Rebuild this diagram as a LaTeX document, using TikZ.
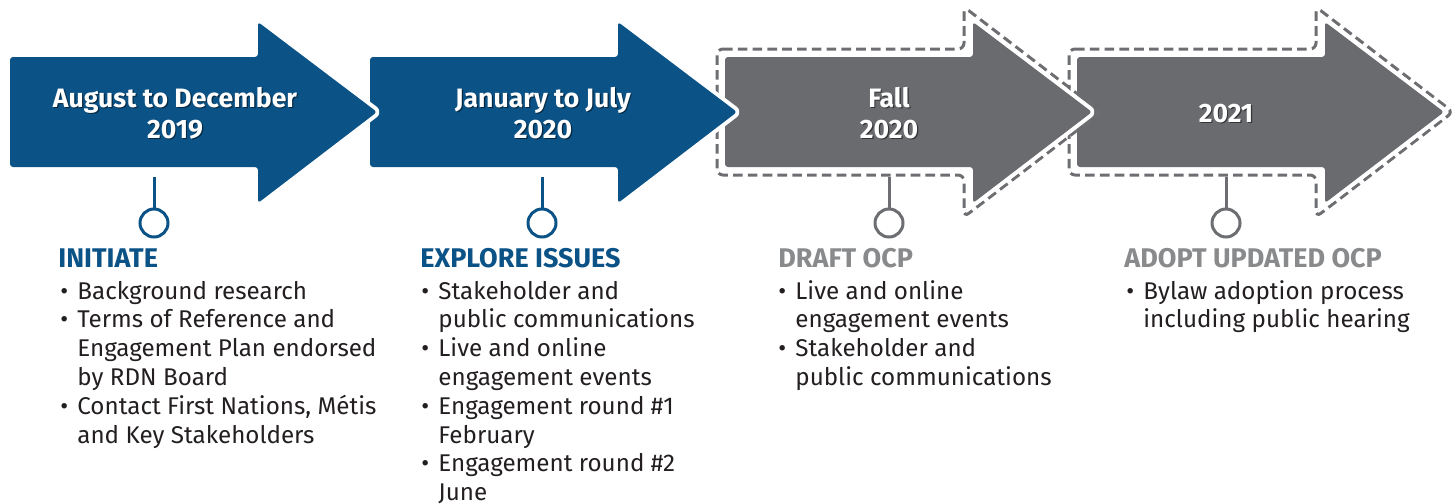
\documentclass[tikz,border=0pt]{standalone}
\usepackage{fontspec}
\setmainfont{Fira Sans}
\usepackage{tikz}
\usetikzlibrary{calc}
\definecolor{rdnblue}{RGB}{11,82,134}
\definecolor{rdngrey}{RGB}{106,107,111}
\definecolor{stemgrey}{RGB}{109,110,113}
\definecolor{headgrey}{RGB}{137,138,140}
\definecolor{bodytext}{RGB}{35,31,32}

\tikzset{
  phase/.style={rounded corners=1.5pt, preaction={draw=white, line width=4pt, line join=round}},
  outline/.style={draw=stemgrey, line width=1.5pt, dash pattern=on 4.8pt off 2.6pt, rounded corners=3pt},
  stem/.style={line width=1.5pt},
  marker/.style={circle, line width=1.5pt, fill=white, minimum size=14pt, inner sep=0pt},
  title/.style={font=\bfseries\fontsize{13.3}{15.5}\selectfont, text=white, align=center, inner sep=0pt, anchor=base},
  shade/.style={title, text=black, text opacity=0.5},
  heading/.style={font=\bfseries\fontsize{13.5}{16}\selectfont, inner sep=0pt, anchor=base west},
  items/.style={font=\fontsize{12.1}{14.4}\selectfont, text=bodytext, align=left, inner sep=0pt, anchor=base west},
}

\begin{document}
\begin{tikzpicture}[x=0.5pt,y=-0.5pt]
    \useasboundingbox (0,0) rectangle (1455,503);

    % shapes, #1 = left end of the body
    \def\arrowshape#1{(#1,57) -- (#1+248,57) -- (#1+248,22) -- (#1+367,112) -- (#1+248,203) -- (#1+248,167) -- (#1,167) -- cycle}
    \def\dashshape#1{(#1-8,49) -- (#1+239,49) -- (#1+239,7) -- (#1+376,112) -- (#1+239,217) -- (#1+239,175) -- (#1-8,175) -- cycle}
    \def\bul{\makebox[8.5pt][l]{\textbullet}}
    \def\cont{\hspace*{8.5pt}}
    \def\phasetitle#1#2#3{\node[shade] (#1s) at ($(#2)+(1.2,1.8)$) {#3}; \node[title] (#1) at (#2) {#3};}

    % COORDINATES (base of the last line of each title)
    \coordinate (T1) at (175,138);
    \coordinate (T2) at (543,138);
    \coordinate (T3) at (889,138);
    \coordinate (T4) at (1226,122);

    % ARROWS (right to left, each tip lies over the next one)
    \path[outline] \dashshape{1077};
    \fill[phase, rdngrey] \arrowshape{1077};
    \path[outline] \dashshape{725};
    \fill[phase, rdngrey] \arrowshape{725};
    \fill[phase, rdnblue] \arrowshape{370};
    \fill[phase, rdnblue] \arrowshape{10};

    \phasetitle{t1}{T1}{August to December\\2019}
    \phasetitle{t2}{T2}{January to July\\2020}
    \phasetitle{t3}{T3}{Fall\\2020}
    \phasetitle{t4}{T4}{2021}

    % STEMS
    \coordinate (s1) at (154,177);
    \coordinate (s2) at (542,177);
    \coordinate (s3) at (889,177);
    \coordinate (s4) at (1226,177);
    \node[marker, draw=rdnblue] (m1) at (154,223) {};
    \node[marker, draw=rdnblue] (m2) at (542,223) {};
    \node[marker, draw=stemgrey] (m3) at (889,223) {};
    \node[marker, draw=stemgrey] (m4) at (1226,223) {};
    \draw[stem, rdnblue] (s1) -- (m1);
    \draw[stem, rdnblue] (s2) -- (m2);
    \draw[stem, stemgrey] (s3) -- (m3);
    \draw[stem, stemgrey] (s4) -- (m4);

    % HEADINGS
    \node[heading, rdnblue] (h1) at (58,267) {INITIATE};
    \node[heading, rdnblue] (h2) at (420,267) {EXPLORE ISSUES};
    \node[heading, headgrey] (h3) at (778,267) {DRAFT OCP};
    \node[heading, headgrey] (h4) at (1124,267) {ADOPT UPDATED OCP};

    % LISTS (placed by the base of their last line, 28.8 apart)
    \node[items] (l1) at (60,443) {\bul Background research\\
        \bul Terms of Reference and\\ \cont Engagement Plan endorsed\\ \cont by RDN Board\\
        \bul Contact First Nations, Métis\\ \cont and Key Stakeholders};
    \node[items] (l2) at (421,500.6) {\bul Stakeholder and\\ \cont public communications\\
        \bul Live and online\\ \cont engagement events\\
        \bul Engagement round \#1\\ \cont February\\
        \bul Engagement round \#2\\ \cont June};
    \node[items] (l3) at (778,385.4) {\bul Live and online\\ \cont engagement events\\
        \bul Stakeholder and\\ \cont public communications};
    \node[items] (l4) at (1126,327.8) {\bul Bylaw adoption process\\ \cont including public hearing};

\end{tikzpicture}
\end{document}
